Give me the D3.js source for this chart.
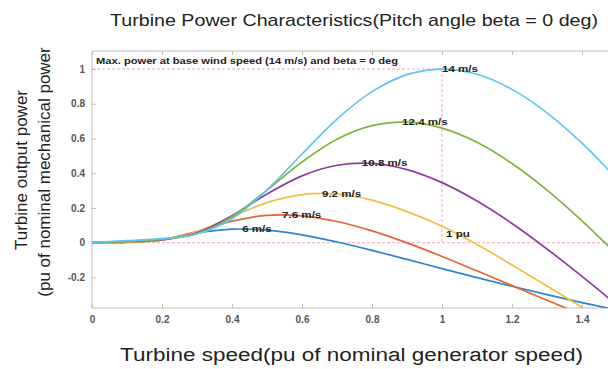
<!DOCTYPE html>
<html>
<head>
<meta charset="utf-8">
<script src="https://cdn.jsdelivr.net/npm/d3@7/dist/d3.min.js"></script>
<style>
	body { margin: 0; background: #fff; }
	text { font-family: "Liberation Sans", Arial, sans-serif; }
</style>
</head>
<body>
<svg id="chart" width="608" height="369"></svg>
<script>
// turbine speed (pu) where each curve was read
var speeds = [ 0, 0.1, 0.2, 0.3, 0.4, 0.5, 0.6, 0.7, 0.8, 0.9, 1.0, 1.1, 1.2, 1.3, 1.4, 1.5 ];

// output power (pu), one array per wind speed
var power6   = [ 0, 0.002, 0.019, 0.056, 0.078, 0.072, 0.045, 0.004, -0.044, -0.096, -0.149, -0.201, -0.251, -0.299, -0.345, -0.388 ];
var power7_6 = [ 0, 0.003, 0.016, 0.066, 0.124, 0.157, 0.155, 0.122, 0.068, -0.001, -0.079, -0.162, -0.247, -0.331, -0.415, -0.495 ];
var power9_2 = [ 0, 0.005, 0.015, 0.064, 0.150, 0.231, 0.277, 0.280, 0.245, 0.179, 0.095, -0.010, -0.128, -0.249, -0.372, -0.497 ];
var power10_8 = [ 0, 0.007, 0.016, 0.057, 0.156, 0.281, 0.385, 0.446, 0.457, 0.421, 0.346, 0.240, 0.111, -0.036, -0.194, -0.359 ];
var power12_4 = [ 0, 0.009, 0.019, 0.052, 0.150, 0.303, 0.465, 0.596, 0.674, 0.694, 0.660, 0.578, 0.456, 0.303, 0.126, -0.069 ];
var power14  = [ 0, 0.012, 0.023, 0.050, 0.138, 0.304, 0.511, 0.712, 0.870, 0.968, 1.000, 0.970, 0.883, 0.748, 0.573, 0.367 ];

// curve labels sit on each curve's maximum
var windLabels = [ "6 m/s", "7.6 m/s", "9.2 m/s", "10.8 m/s", "12.4 m/s", "14 m/s" ];
var peakSpeed  = [ 0.429, 0.543, 0.657, 0.771, 0.886, 1.0 ];
var peakPower  = [ 0.079, 0.160, 0.284, 0.459, 0.695, 1.0 ];

var xTicks = [ 0, 0.2, 0.4, 0.6, 0.8, 1, 1.2, 1.4 ];
var xTickLabels = [ "0", "0.2", "0.4", "0.6", "0.8", "1", "1.2", "1.4" ];
var yTicks = [ -0.2, 0, 0.2, 0.4, 0.6, 0.8, 1 ];
var yTickLabels = [ "-0.2", "0", "0.2", "0.4", "0.6", "0.8", "1" ];

var colors = [ "#2b87cf", "#e2643a", "#f0be45", "#8d3fa0", "#80b43c", "#5ec6f0" ];
var allPower = [ power6, power7_6, power9_2, power10_8, power12_4, power14 ];

var dims = { left: 92, right: 617, top: 51, bottom: 308 };

var svg = d3.select( "#chart" );

var xScale = d3.scaleLinear()
	.domain( [ 0, 1.5 ] )
	.range( [ dims.left, dims.right ] );

var yScale = d3.scaleLinear()
	.domain( [ -0.376, 1.104 ] )
	.range( [ dims.bottom, dims.top ] );

svg.append( "clipPath" )
	.attr( "id", "plotClip" )
	.append( "rect" )
	.attr( "x", dims.left )
	.attr( "y", dims.top )
	.attr( "width", dims.right - dims.left )
	.attr( "height", dims.bottom - dims.top );

// axes, ticks pointing inwards like matlab
var tickColor = "#bdbdbd";

var xAxis = svg.append( "g" )
	.attr( "transform", `translate(0,${dims.bottom})` )
	.call( d3.axisBottom( xScale )
		.tickValues( xTicks )
		.tickFormat( ( d, i ) => xTickLabels[ i ] )
		.tickSize( -4 )
		.tickPadding( 8 ) );

var xTop = svg.append( "g" )
	.attr( "transform", `translate(0,${dims.top})` )
	.call( d3.axisTop( xScale )
		.tickValues( xTicks )
		.tickFormat( "" )
		.tickSize( -4 ) );

var yAxis = svg.append( "g" )
	.attr( "transform", `translate(${dims.left},0)` )
	.call( d3.axisLeft( yScale )
		.tickValues( yTicks )
		.tickFormat( ( d, i ) => yTickLabels[ i ] )
		.tickSize( -4 )
		.tickPadding( 7 ) );

svg.selectAll( ".domain" ).remove();
svg.selectAll( ".tick line" ).attr( "stroke", tickColor );
svg.selectAll( ".tick text" )
	.style( "font-family", "'Liberation Sans', Arial, sans-serif" )
	.style( "font-size", "10px" )
	.style( "font-weight", "bold" )
	.style( "fill", "#555" );

// frame: left, bottom and top lines
svg.append( "path" )
	.attr( "d", `M${dims.right},${dims.top}H${dims.left}V${dims.bottom}H${dims.right}` )
	.attr( "fill", "none" )
	.attr( "stroke", tickColor )
	.attr( "stroke-width", 1 );

// pink dashed guides at 1 pu speed / 1 pu power and at zero
var guide = svg.append( "g" )
	.attr( "clip-path", "url(#plotClip)" )
	.attr( "stroke", "#f59ab0" )
	.attr( "stroke-width", 0.9 )
	.attr( "stroke-dasharray", "3,2" )
	.attr( "fill", "none" );

guide.append( "line" )
	.attr( "x1", xScale( 0 ) ).attr( "x2", xScale( 1 ) )
	.attr( "y1", yScale( 1 ) ).attr( "y2", yScale( 1 ) );
guide.append( "line" )
	.attr( "x1", xScale( 0 ) ).attr( "x2", xScale( 1.5 ) )
	.attr( "y1", yScale( 0 ) ).attr( "y2", yScale( 0 ) );
guide.append( "line" )
	.attr( "x1", xScale( 1 ) ).attr( "x2", xScale( 1 ) )
	.attr( "y1", yScale( 1 ) ).attr( "y2", yScale( 0 ) );

// the power curves
var line = d3.line()
	.x( ( d, i ) => xScale( speeds[ i ] ) )
	.y( d => yScale( d ) )
	.curve( d3.curveCatmullRom.alpha( 0.5 ) );

svg.append( "g" )
	.attr( "clip-path", "url(#plotClip)" )
	.selectAll( "path" )
	.data( allPower )
	.enter()
	.append( "path" )
	.attr( "d", line )
	.attr( "fill", "none" )
	.attr( "stroke", ( d, i ) => colors[ i ] )
	.attr( "stroke-width", 1.7 );

// labels on the curves (the picture is a bit stretched sideways)
var stretch = 1.22;
var labelStyle = function( sel ) {
	sel.style( "font-size", "9.5px" )
		.style( "font-weight", "bold" )
		.style( "fill", "#222" );
};

svg.selectAll( ".windLabel" )
	.data( windLabels )
	.enter()
	.append( "text" )
	.attr( "class", "windLabel" )
	.attr( "transform", ( d, i ) => `translate(${xScale( peakSpeed[ i ] )},${yScale( peakPower[ i ] )}) scale(${stretch},1)` )
	.attr( "dy", "0.35em" )
	.text( d => d )
	.call( labelStyle );

svg.append( "text" )
	.attr( "transform", `translate(${xScale( 1 ) + 4},${yScale( 0.05 )}) scale(${stretch},1)` )
	.attr( "dy", "0.35em" )
	.text( "1 pu" )
	.call( labelStyle );

svg.append( "text" )
	.attr( "x", dims.left + 4 )
	.attr( "y", 64 )
	.attr( "textLength", 302 )
	.attr( "lengthAdjust", "spacingAndGlyphs" )
	.text( "Max. power at base wind speed (14 m/s) and beta = 0 deg" )
	.call( labelStyle );

// titles
svg.append( "text" )
	.attr( "x", 110 )
	.attr( "y", 26 )
	.attr( "textLength", 488 )
	.attr( "lengthAdjust", "spacingAndGlyphs" )
	.style( "font-size", "17px" )
	.style( "fill", "#222" )
	.text( "Turbine Power Characteristics(Pitch angle beta = 0 deg)" );

svg.append( "text" )
	.attr( "x", 120 )
	.attr( "y", 361 )
	.attr( "textLength", 463 )
	.attr( "lengthAdjust", "spacingAndGlyphs" )
	.style( "font-size", "18px" )
	.style( "fill", "#222" )
	.text( "Turbine speed(pu of nominal generator speed)" );

svg.append( "text" )
	.attr( "transform", "translate(27,170) rotate(-90)" )
	.attr( "text-anchor", "middle" )
	.style( "font-size", "17px" )
	.style( "fill", "#222" )
	.text( "Turbine output power" );

svg.append( "text" )
	.attr( "transform", "translate(50,172) rotate(-90)" )
	.attr( "text-anchor", "middle" )
	.style( "font-size", "17px" )
	.style( "fill", "#222" )
	.text( "(pu of nominal mechanical power" );
</script>
</body>
</html>
